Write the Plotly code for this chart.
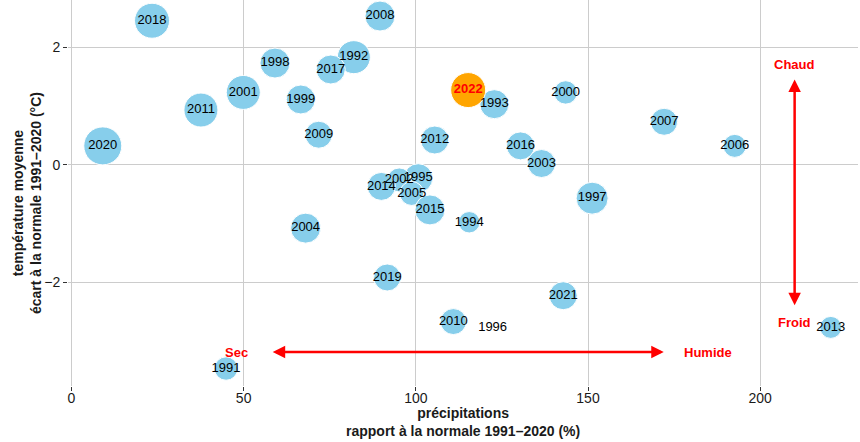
import plotly.graph_objects as go

# ---- data ----
annees = [1991, 1992, 1993, 1994, 1995, 1996, 1997, 1998, 1999, 2000,
          2001, 2002, 2003, 2004, 2005, 2006, 2007, 2008, 2009, 2010,
          2011, 2012, 2013, 2014, 2015, 2016, 2017, 2018, 2019, 2020,
          2021, 2022]
precipitations = [44.9, 82.0, 122.8, 115.5, 100.7, 122.3, 151.2, 59.1, 66.6, 143.5,
                  49.9, 95.2, 136.5, 68.0, 98.8, 192.6, 172.1, 89.6, 71.8, 110.9,
                  37.6, 105.5, 220.5, 90.0, 104.1, 130.4, 75.3, 23.4, 91.7, 9.1,
                  142.8, 115.2]
temperature = [-3.47, 1.83, 1.03, -0.98, -0.23, -2.78, -0.57, 1.73, 1.11, 1.23,
               1.23, -0.26, 0.02, -1.08, -0.49, 0.32, 0.73, 2.53, 0.51, -2.67,
               0.93, 0.42, -2.77, -0.37, -0.77, 0.32, 1.62, 2.45, -1.92, 0.32,
               -2.23, 1.27]
# third variable encoded by bubble size (relative units)
taille_bulle = [11.7, 16.5, 14.5, 10.7, 14.5, 0, 16, 15, 14.5, 11.7,
                17, 12, 14, 15, 12, 11.5, 13.5, 15, 13.5, 13,
                17, 14, 11, 14, 15, 14, 14.5, 17.5, 13.5, 19,
                14, 17.5]
annee_focus = 2022

x_ticks = [0, 50, 100, 150, 200]
y_ticks = [-2, 0, 2]

FONT = "Liberation Sans, Arial, sans-serif"

idx_autres = [i for i, a in enumerate(annees) if a != annee_focus]
idx_focus = [i for i, a in enumerate(annees) if a == annee_focus]

def sel(lst, idx):
    return [lst[i] for i in idx]

fig = go.Figure()

fig.add_trace(go.Scatter(
    x=sel(precipitations, idx_autres), y=sel(temperature, idx_autres),
    mode="markers",
    marker=dict(size=sel(taille_bulle, idx_autres), sizemode="diameter", sizeref=0.5,
                color="#87CEEB", opacity=1, line=dict(color="white", width=1)),
    hoverinfo="skip", showlegend=False))

fig.add_trace(go.Scatter(
    x=sel(precipitations, idx_focus), y=sel(temperature, idx_focus),
    mode="markers",
    marker=dict(size=sel(taille_bulle, idx_focus), sizemode="diameter", sizeref=0.5,
                color="#FFA500", opacity=1, line=dict(color="white", width=1)),
    hoverinfo="skip", showlegend=False))

fig.add_trace(go.Scatter(
    x=sel(precipitations, idx_autres), y=sel(temperature, idx_autres),
    mode="text", text=[str(a) for a in sel(annees, idx_autres)],
    textposition="middle center",
    textfont=dict(family=FONT, size=13, color="black"),
    hoverinfo="skip", showlegend=False))

fig.add_trace(go.Scatter(
    x=sel(precipitations, idx_focus), y=sel(temperature, idx_focus),
    mode="text", text=["<b>%d</b>" % a for a in sel(annees, idx_focus)],
    textposition="middle center",
    textfont=dict(family=FONT, size=13, color="red"),
    hoverinfo="skip", showlegend=False))

# ---- arrows and direction labels ----
fleche_h = dict(x0=58, x1=172, y=-3.19)
fleche_v = dict(x=210, y0=-2.42, y1=1.45)

annotations = [
    dict(x=fleche_h["x1"], y=fleche_h["y"], ax=fleche_h["x0"], ay=fleche_h["y"],
         xref="x", yref="y", axref="x", ayref="y", text="", showarrow=True,
         arrowside="end+start", arrowhead=2, arrowsize=1, arrowwidth=2.5,
         arrowcolor="red"),
    dict(x=fleche_v["x"], y=fleche_v["y1"], ax=fleche_v["x"], ay=fleche_v["y0"],
         xref="x", yref="y", axref="x", ayref="y", text="", showarrow=True,
         arrowside="end+start", arrowhead=2, arrowsize=1, arrowwidth=2.5,
         arrowcolor="red"),
]
for txt, xx, yy in [("Sec", 48, -3.19), ("Humide", 184.8, -3.19),
                    ("Chaud", 210, 1.71), ("Froid", 210, -2.68)]:
    annotations.append(dict(x=xx, y=yy, xref="x", yref="y", text="<b>%s</b>" % txt,
                            showarrow=False, font=dict(family=FONT, size=13, color="red"),
                            xanchor="center", yanchor="middle"))

# axis titles as annotations (fixed placement)
annotations.append(dict(
    x=0.5, y=0, xref="paper", yref="paper", xanchor="center", yanchor="middle",
    yshift=-36, showarrow=False,
    text="<b>précipitations</b><br><b>rapport à la normale 1991–2020 (%)</b>",
    font=dict(family=FONT, size=14, color="#1a1a1a")))
annotations.append(dict(
    x=0, y=0.5, xref="paper", yref="paper", xanchor="center", yanchor="middle",
    xshift=-41, yshift=-10, showarrow=False, textangle=-90,
    text="<b>température moyenne</b><br><b>écart à la normale 1991–2020 (°C)</b>",
    font=dict(family=FONT, size=14, color="#1a1a1a")))

fig.update_layout(
    width=860, height=442,
    margin=dict(l=68, r=2, t=0, b=56),
    paper_bgcolor="white", plot_bgcolor="white",
    font=dict(family=FONT, size=14, color="#1a1a1a"),
    annotations=annotations,
    xaxis=dict(range=[-1.0, 228.4], tickvals=x_ticks, showgrid=True, automargin=False,
               gridcolor="#cccccc", gridwidth=1, zeroline=False, showline=False,
               ticks="outside", ticklen=4, tickcolor="#333333", ticklabelstandoff=-5,
               tickfont=dict(size=14, color="#1a1a1a")),
    yaxis=dict(range=[-3.767, 2.803], tickvals=y_ticks, showgrid=True, automargin=False,
               gridcolor="#cccccc", gridwidth=1, zeroline=False, showline=False,
               ticks="outside", ticklen=4, tickcolor="#333333",
               tickfont=dict(size=14, color="#1a1a1a")),
)

fig.write_html("out.html", config={"displayModeBar": False},
               post_script="document.body.style.margin='0';document.body.style.overflow='hidden';")
